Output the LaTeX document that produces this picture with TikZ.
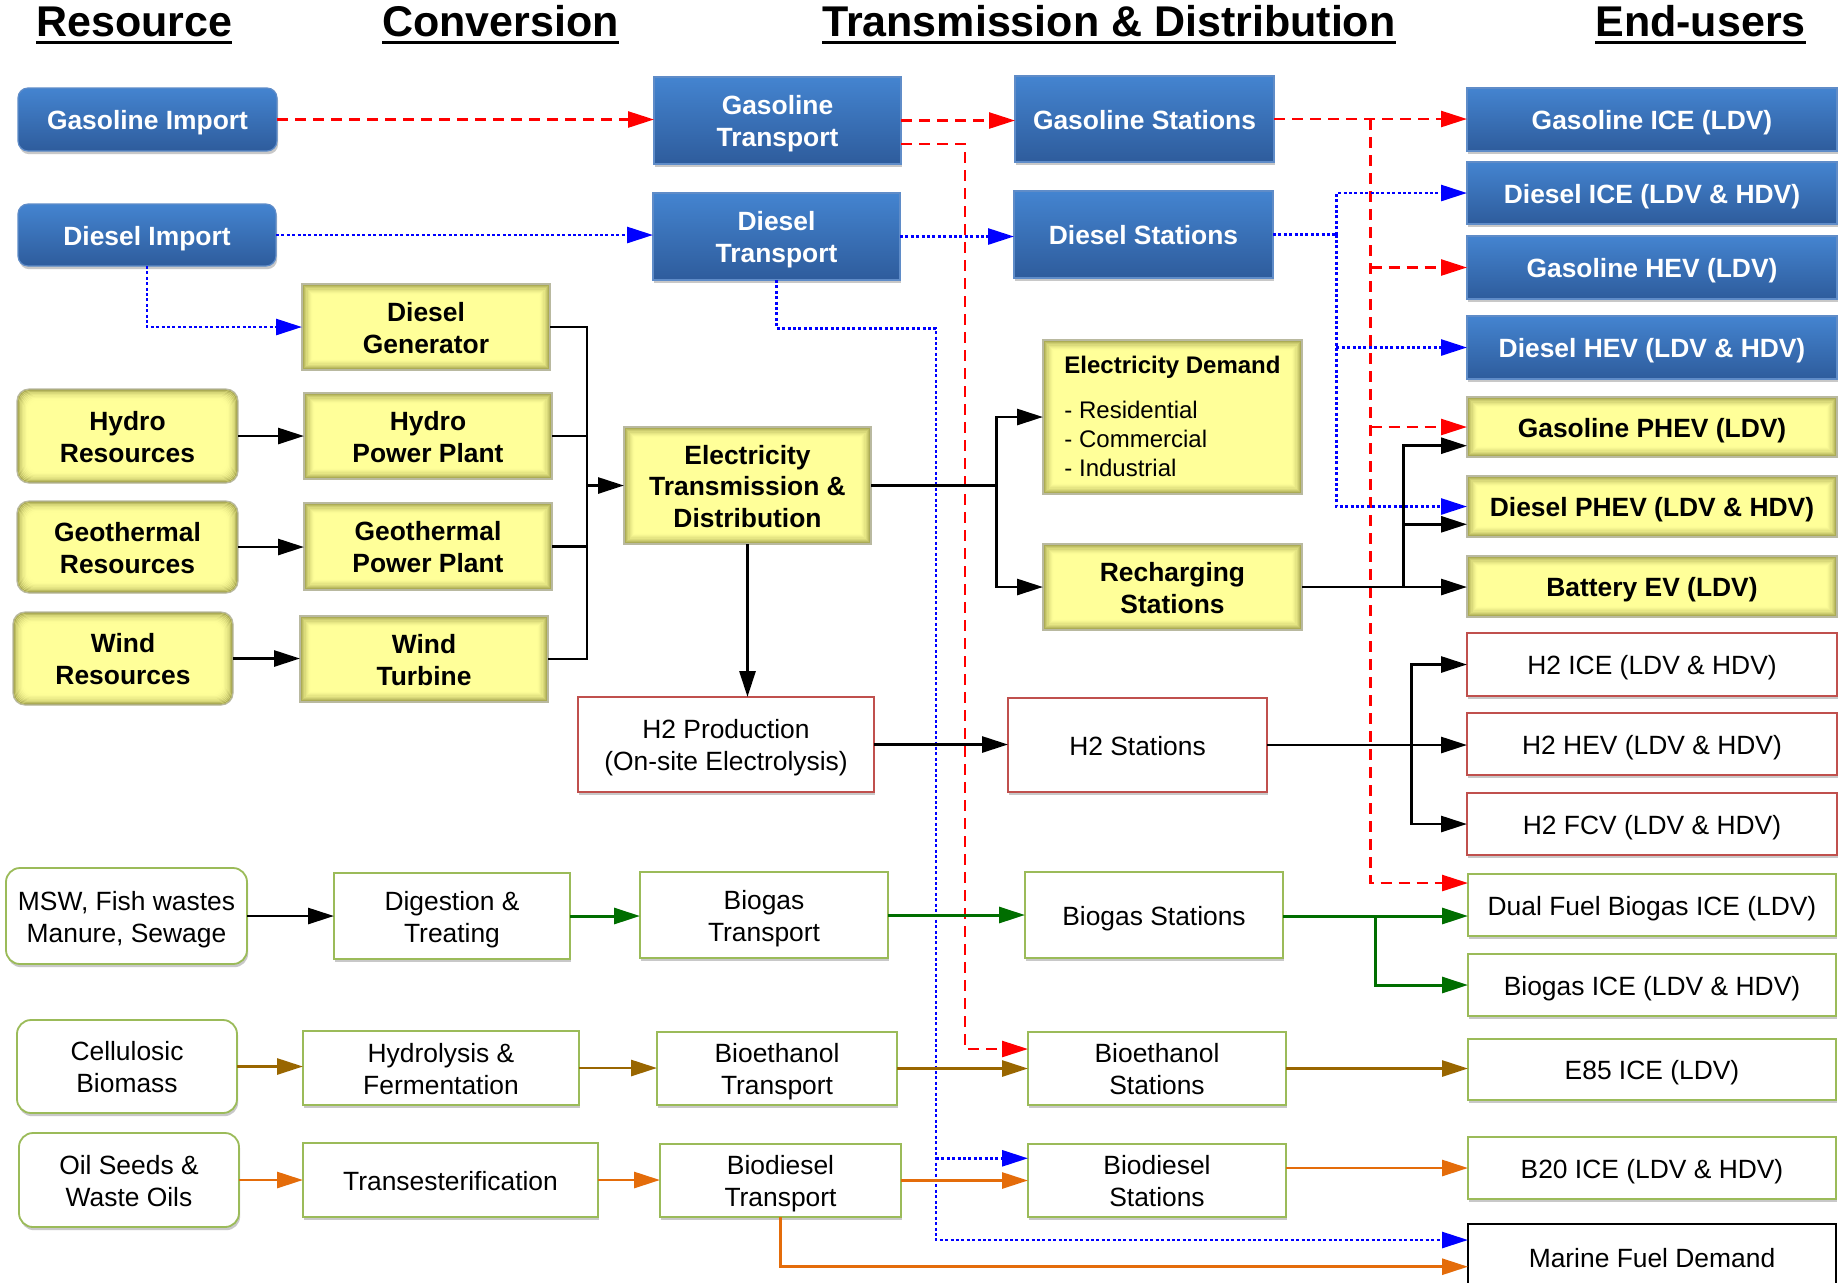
\documentclass[tikz,border=0pt]{standalone}
\usepackage{fontspec}
\setmainfont{Liberation Sans}
\usetikzlibrary{arrows.meta,shadows}

\definecolor{btop}{RGB}{68,132,208}
\definecolor{bbot}{RGB}{46,92,156}
\definecolor{bborder}{RGB}{95,140,200}
\definecolor{yfill}{RGB}{255,255,153}
\definecolor{ydark}{RGB}{135,135,55}
\definecolor{yborder}{RGB}{185,185,160}
\definecolor{gborder}{RGB}{155,187,89}
\definecolor{rborder}{RGB}{192,80,77}
\definecolor{cgreen}{RGB}{0,110,0}
\definecolor{cbrown}{RGB}{153,102,0}
\definecolor{corange}{RGB}{228,108,10}
\definecolor{cred}{RGB}{255,0,0}
\definecolor{cblue}{RGB}{0,0,255}

\newcommand\mainsz{\fontsize{13.2pt}{15.9pt}\selectfont}
\newcommand\tp{\rule{0pt}{13.3pt}}

\tikzset{
  wh/.style 2 args={minimum width={#1*0.5pt}, minimum height={#2*0.5pt}},
  nb/.style={inner sep=0pt, outer sep=0pt, align=center, font=\mainsz,
    execute at begin node={\rule{0pt}{13.3pt}},
    execute at end node={\rule[-3pt]{0pt}{3pt}}},
  softshadow/.style={drop shadow={shadow xshift=0.6pt, shadow yshift=-1.6pt, opacity=0.3, fill=black!70}},
  bluebox/.style={nb, top color=btop, bottom color=bbot, draw=bborder, line width=0.6pt,
    text=white, font=\mainsz\bfseries, softshadow},
  yglowpic/.style={path picture={
    \foreach \k in {0,...,9}{
      \pgfmathsetmacro\mix{int(round(85*(1-\k/10)^2))}
      \draw[draw=ydark!\mix!yfill, line width=0.6pt, rounded corners=#1]
        ([shift={({\k*0.55pt+0.3pt},{-\k*0.55pt-0.3pt})}]path picture bounding box.north west)
        rectangle
        ([shift={({-\k*0.55pt-0.3pt},{\k*0.55pt+0.3pt})}]path picture bounding box.south east);
    }}},
  ybox/.style={nb, fill=yfill, draw=yborder, line width=0.6pt, font=\mainsz\bfseries, yglowpic=0pt},
  yrbox/.style={nb, fill=yfill, draw=yborder, line width=0.6pt, font=\mainsz\bfseries,
    rounded corners=6pt, yglowpic=5pt},
  rbox/.style={nb, fill=white, draw=rborder, line width=0.9pt, softshadow},
  gbox/.style={nb, fill=white, draw=gborder, line width=0.9pt, softshadow},
  grbox/.style={nb, fill=white, draw=gborder, line width=0.9pt, rounded corners=7pt, softshadow},
  kbox/.style={nb, fill=white, draw=black, line width=0.8pt},
  hdr/.style={inner sep=0pt, outer sep=0pt, font=\fontsize{21.5pt}{25pt}\selectfont\bfseries},
  arr/.style={-{Triangle[length=13pt,width=8pt]}},
  blk/.style={black, line width=1.4pt},
  grn/.style={cgreen, line width=1.5pt},
  brn/.style={cbrown, line width=1.4pt},
  org/.style={corange, line width=1.4pt},
  reddash/.style={cred, line width=1.3pt, dash pattern=on 5.5pt off 3.5pt},
  bluedot/.style={cblue, line width=1.35pt, dash pattern=on 1.5pt off 1.2pt},
}

\begin{document}
\begin{tikzpicture}[x=0.5pt,y=-0.5pt]
\useasboundingbox (0,0) rectangle (1843,1282);
\fill[white] (0,0) rectangle (1843,1282);
\clip (0,0) rectangle (1843,1282);

% headers
\node[hdr, anchor=base] (h1) at (134.4,36) {Resource};
\node[hdr, anchor=base] (h2) at (500.5,36) {Conversion};
\node[hdr, anchor=base] (h3) at (1108.8,36) {Transmission \& Distribution};
\node[hdr, anchor=base] (h4) at (1700.5,36) {End-users};
\foreach \h in {h1,h2,h3,h4}{
  \draw[line width=1.6pt] ([yshift=-3.3pt]\h.base west) -- ([yshift=-3.3pt]\h.base east);
}

% blue boxes
\node[bluebox, rounded corners=5pt, wh={259}{63}] (gimp) at (147.5,119.5) {Gasoline Import};
\node[bluebox, rounded corners=5pt, wh={258}{62}] (dimp) at (147,235) {Diesel Import};
\node[bluebox, wh={247}{87}] (gtr) at (777.5,120.5) {\tp Gasoline\\Transport};
\node[bluebox, wh={247}{87}] (dtr) at (776.5,236.5) {\tp Diesel\\Transport};
\node[bluebox, wh={259}{86}] (gst) at (1144.5,119) {Gasoline Stations};
\node[bluebox, wh={259}{87}] (dst) at (1143.5,234.5) {Diesel Stations};
\node[bluebox, wh={370}{63}] (gice) at (1652,119.5) {Gasoline ICE (LDV)};
\node[bluebox, wh={370}{62}] (dice) at (1652,193) {Diesel ICE (LDV \& HDV)};
\node[bluebox, wh={370}{63}] (ghev) at (1652,267.5) {Gasoline HEV (LDV)};
\node[bluebox, wh={370}{63}] (dhev) at (1652,347.5) {Diesel HEV (LDV \& HDV)};

% yellow boxes
\node[ybox, wh={370}{60}] (gphev) at (1652,427) {Gasoline PHEV (LDV)};
\node[ybox, wh={370}{61}] (dphev) at (1652,506.5) {Diesel PHEV (LDV \& HDV)};
\node[ybox, wh={370}{61}] (bev) at (1652,586.5) {Battery EV (LDV)};
\node[ybox, wh={248}{86}] (dgen) at (426,327) {\tp Diesel\\Generator};
\node[yrbox, wh={221}{94}] (hres) at (127.5,436) {\tp Hydro\\Resources};
\node[ybox, wh={248}{86}] (hpp) at (428,436) {\tp Hydro\\Power Plant};
\node[yrbox, wh={221}{92}] (gres) at (127.5,547) {\tp Geothermal\\Resources};
\node[ybox, wh={248}{87}] (gpp) at (428,546.5) {\tp Geothermal\\Power Plant};
\node[yrbox, wh={220}{93}] (wres) at (123,658.5) {\tp Wind\\Resources};
\node[ybox, wh={248}{86}] (wtur) at (424,659) {\tp Wind\\Turbine};
\node[ybox, wh={247}{117}] (etd) at (747.5,485.5) {\tp Electricity\\Transmission \&\\Distribution};
\node[ybox, wh={259}{154}, align=left, font=\fontsize{12pt}{14.5pt}\selectfont,
  execute at begin node={}, execute at end node={}] (edem) at (1172.5,417)
  {\rule{0pt}{11.2pt}\textbf{Electricity Demand}\\[8pt]- Residential\\- Commercial\\- Industrial};
\node[ybox, wh={259}{86}] (rch) at (1172.5,587) {\tp Recharging\\Stations};

% hydrogen (red bordered)
\node[rbox, wh={296}{95}] (h2p) at (726,744.5) {\tp H2 Production\\(On-site Electrolysis)};
\node[rbox, wh={259}{94}] (h2s) at (1137.5,745) {H2 Stations};
\node[rbox, wh={370}{63}] (h2ice) at (1652,664.5) {H2 ICE (LDV \& HDV)};
\node[rbox, wh={370}{62}] (h2hev) at (1652,744) {H2 HEV (LDV \& HDV)};
\node[rbox, wh={370}{62}] (h2fcv) at (1652,824) {H2 FCV (LDV \& HDV)};

% bio (green bordered)
\node[grbox, wh={241}{96}] (msw) at (126.5,916) {\tp MSW, Fish wastes\\Manure, Sewage};
\node[gbox, wh={236}{86}] (dig) at (452,916) {\tp Digestion \&\\Treating};
\node[gbox, wh={248}{86}] (bgt) at (764,915) {\tp Biogas\\Transport};
\node[gbox, wh={258}{86}] (bgs) at (1154,915) {Biogas Stations};
\node[gbox, wh={368}{62}] (dfb) at (1652,905) {Dual Fuel Biogas ICE (LDV)};
\node[gbox, wh={368}{62}] (bgice) at (1652,985) {Biogas ICE (LDV \& HDV)};
\node[grbox, wh={220}{93}] (cel) at (127,1066.5) {\tp Cellulosic\\Biomass};
\node[gbox, wh={276}{74}] (hyd) at (441,1068) {\tp Hydrolysis \&\\Fermentation};
\node[gbox, wh={240}{73}] (bet) at (777,1068.5) {\tp Bioethanol\\Transport};
\node[gbox, wh={258}{73}] (bes) at (1157,1068.5) {\tp Bioethanol\\Stations};
\node[gbox, wh={368}{61}] (e85) at (1652,1069.5) {E85 ICE (LDV)};
\node[grbox, wh={220}{94}] (oil) at (129,1180) {\tp Oil Seeds \&\\Waste Oils};
\node[gbox, wh={295}{74}] (trans) at (450.5,1180) {Transesterification};
\node[gbox, wh={241}{73}] (bdt) at (780.5,1180.5) {\tp Biodiesel\\Transport};
\node[gbox, wh={258}{73}] (bds) at (1157,1180.5) {\tp Biodiesel\\Stations};
\node[gbox, wh={368}{62}] (b20) at (1652,1168) {B20 ICE (LDV \& HDV)};
\node[kbox, wh={368}{66}] (marine) at (1652,1257) {Marine Fuel Demand};

% ---------- red dashed (gasoline)
\draw[reddash, arr] (gimp.east) -- (gimp.east -| gtr.west);
\draw[reddash, arr] (gtr.east) -- (gtr.east -| gst.west);
\draw[reddash, arr] (gst.east) -- (gst.east -| gice.west);
\coordinate (rv) at (1370.5,119);
\draw[reddash, arr] (rv) |- (dfb.west |- 0,883);
\draw[reddash, arr] (rv |- ghev.west) -- (ghev.west);
\draw[reddash, arr] (rv |- gphev.west) -- (gphev.west);
\coordinate (rv2) at (965,1049);
\draw[reddash, arr] (gtr.east |- 0,144) -| (rv2) -- (bes.west |- rv2);

% ---------- blue dotted (diesel)
\draw[bluedot, arr] (dimp.east) -- (dimp.east -| dtr.west);
\draw[bluedot, arr] (dtr.east) -- (dtr.east -| dst.west);
\coordinate (bv) at (1336.4,234.5);
\draw[bluedot] (dst.east) -- (bv);
\draw[bluedot, arr] (bv) |- (dice.west);
\draw[bluedot, arr] (bv) |- (dphev.west);
\draw[bluedot, arr] (bv |- dhev.west) -- (dhev.west);
\draw[bluedot, arr] (dimp.south) |- (dgen.west);
\coordinate (bv2) at (936,328.3);
\coordinate (bv3) at (936,1240);
\draw[bluedot, arr] (dtr.south) |- (bv2) -- (bv3) -- (marine.west |- bv3);
\draw[bluedot, arr] (bv2 |- 0,1158.3) -- (bds.west |- 0,1158.3);

% ---------- black (electricity, hydrogen)
\coordinate (eb) at (587,485.5);
\draw[blk] (dgen.east) -| (eb);
\draw[blk] (wtur.east) -| (eb);
\draw[blk] (hpp.east) -- (hpp.east -| eb);
\draw[blk] (gpp.east) -- (gpp.east -| eb);
\draw[blk, arr] (eb) -- (etd.west);
\draw[blk, arr] (hres.east) -- (hres.east -| hpp.west);
\draw[blk, arr] (gres.east) -- (gres.east -| gpp.west);
\draw[blk, arr] (wres.east) -- (wres.east -| wtur.west);
\coordinate (eb2) at (996.6,485.5);
\draw[blk] (etd.east) -- (eb2);
\draw[blk, arr] (eb2) |- (edem.west);
\draw[blk, arr] (eb2) |- (rch.west);
\draw[blk, arr] (etd.south) -- (etd.south |- h2p.north);
\draw[blk, arr] (h2p.east) -- (h2p.east -| h2s.west);
\coordinate (hb) at (1411.5,745);
\draw[blk] (h2s.east) -- (hb);
\draw[blk, arr] (hb) |- (h2ice.west);
\draw[blk, arr] (hb) |- (h2fcv.west);
\draw[blk, arr] (hb) -- (hb -| h2hev.west);
\coordinate (rb) at (1403.2,587);
\draw[blk, arr] (rch.east) -- (rch.east -| bev.west);
\draw[blk, arr] (rb) |- (gphev.west |- 0,445.7);
\draw[blk, arr] (rb |- 0,524.3) -- (dphev.west |- 0,524.3);
\draw[blk, arr] (msw.east) -- (msw.east -| dig.west);

% ---------- green (biogas)
\draw[grn, arr] (dig.east) -- (dig.east -| bgt.west);
\draw[grn, arr] (bgt.east) -- (bgt.east -| bgs.west);
\coordinate (gb) at (1375,916);
\draw[grn, arr] (bgs.east |- gb) -- (gb -| dfb.west);
\draw[grn, arr] (gb) |- (bgice.west);

% ---------- brown (bioethanol)
\draw[brn, arr] (cel.east) -- (cel.east -| hyd.west);
\draw[brn, arr] (hyd.east) -- (hyd.east -| bet.west);
\draw[brn, arr] (bet.east) -- (bet.east -| bes.west);
\draw[brn, arr] (bes.east) -- (bes.east -| e85.west);

% ---------- orange (biodiesel)
\draw[org, arr] (oil.east) -- (oil.east -| trans.west);
\draw[org, arr] (trans.east) -- (trans.east -| bdt.west);
\draw[org, arr] (bdt.east) -- (bdt.east -| bds.west);
\draw[org, arr] (bds.east |- b20.west) -- (b20.west);
\draw[org, arr] (bdt.south) |- (marine.west |- 0,1266.7);
\end{tikzpicture}
\end{document}
